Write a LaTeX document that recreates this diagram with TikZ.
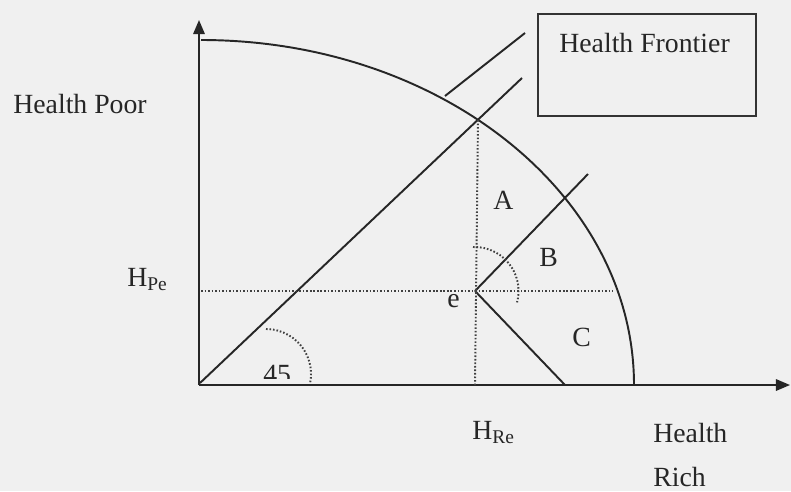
\documentclass[tikz,border=0pt]{standalone}
\usepackage{fontspec}
\setmainfont{Liberation Serif}
\usetikzlibrary{arrows.meta}

\begin{document}
\begin{tikzpicture}[
      x=0.02cm, y=-0.02cm,
      font=\fontsize{15.8}{19}\selectfont,
      ink/.style   ={draw=black!85, line width=1.1pt},
      axis/.style  ={ink, -{Triangle[length=8pt,width=6.5pt]}},
      guide/.style ={draw=black!75, line width=1.1pt, dash pattern=on 0.9pt off 1.1pt},
      lbl/.style   ={anchor=base west, inner sep=0pt, text=black!85}
    ]
    % --- page and background ---
    \fill[black!6] (0,0) rectangle (791,491);
    \useasboundingbox (0,0) rectangle (791,491);
    % --- key points (pixel grid) ---
    \coordinate (orig) at (199,385);
    \coordinate (ytip) at (199,20);
    \coordinate (xtip) at (790,385);
    \coordinate (e)    at (475,291);
    \coordinate (diag) at (522,78);
    \coordinate (btip) at (588,174);
    \coordinate (cend) at (565,385);
    \coordinate (ptrA) at (445,96);
    \coordinate (ptrB) at (525,33);
    % --- axes ---
    \draw[axis] (orig) -- (ytip);
    \draw[axis] (orig) -- (xtip);
    % --- frontier (quarter ellipse) ---
    \draw[ink] (201,40) arc[start angle=-90, end angle=0, x radius=433, y radius=345];
    % --- 45 degree line, pointer, and rays from e ---
    \draw[ink] (200,383) -- (diag);
    \draw[ink] (ptrA) -- (ptrB);
    \draw[ink] (e) -- (btip);
    \draw[ink] (e) -- (cend);
    % --- dotted guides ---
    \draw[guide] (201,291) -- (613,291);
    \draw[guide] (478,120) -- (475,385);
    \draw[guide] (e) ++(-2,-44) arc[start angle=-92, end angle=15, radius=44];
    \draw[guide] (266,374) ++(0,-45) arc[start angle=-90, end angle=12, radius=45];
    % --- legend box ---
    \node[draw=black!80, line width=0.9pt, minimum width=4.36cm, minimum height=2.04cm] (frontbox) at (647,65) {};
    \node[lbl] (frontlbl) at (559,52) {Health Frontier};
    % --- labels ---
    \node[lbl] (poor) at (13,113)  {Health Poor};
    \node[lbl] (hpe)  at (127,286) {H\textsubscript{Pe}};
    \node[lbl] (hre)  at (472,439) {H\textsubscript{Re}};
    \node[lbl] (elbl) at (447,307) {e};
    \node[lbl] (alb)  at (493,209) {A};
    \node[lbl] (blb)  at (539,266) {B};
    \node[lbl] (clb)  at (572,346) {C};
    \node[lbl] (rich1) at (653,442) {Health};
    \node[lbl] (rich2) at (653,486) {Rich};
    \begin{scope}
      \clip (250,350) rectangle (300,378);
      \node[lbl] (deg) at (263,383) {45};
    \end{scope}
  \end{tikzpicture}
\end{document}
